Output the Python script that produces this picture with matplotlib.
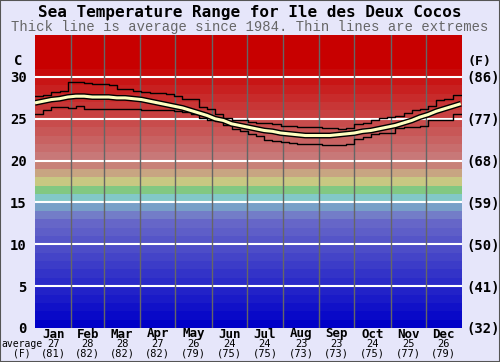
import matplotlib
matplotlib.use("Agg")
import matplotlib.pyplot as plt
import matplotlib.transforms as mtransforms
import numpy as np

# day of year sampled weekly
days = list(range(0, 365, 7))

avg_c = [26.9, 27.1, 27.3, 27.4, 27.6, 27.7, 27.7, 27.6, 27.6, 27.6, 27.5, 27.5, 27.4,
         27.3, 27.1, 26.9, 26.7, 26.5, 26.3, 26.0, 25.7, 25.4, 25.0, 24.8, 24.4, 24.2,
         24.0, 23.8, 23.6, 23.5, 23.3, 23.2, 23.1, 23.0, 23.0, 23.0, 23.0, 23.1, 23.2,
         23.3, 23.5, 23.6, 23.8, 24.0, 24.2, 24.5, 24.8, 25.2, 25.5, 25.9, 26.2, 26.5, 26.8]

max_c = [27.7, 27.8, 28.2, 28.3, 29.4, 29.4, 29.3, 29.2, 29.1, 29.0, 28.6, 28.6, 28.3,
         28.2, 28.1, 28.1, 28.0, 27.7, 27.4, 27.4, 26.4, 26.2, 25.6, 25.1, 24.9, 24.8,
         24.6, 24.5, 24.5, 24.4, 24.1, 24.1, 24.0, 24.0, 24.0, 23.9, 23.9, 23.8, 23.9,
         24.4, 24.5, 24.8, 25.1, 25.2, 25.3, 25.7, 26.0, 26.2, 26.5, 27.3, 27.4, 27.8, 27.8]

min_c = [25.6, 26.0, 26.4, 26.4, 26.3, 26.5, 26.2, 26.2, 26.2, 26.2, 26.2, 26.2, 26.2,
         26.1, 26.1, 26.1, 26.1, 25.9, 25.8, 25.6, 25.1, 24.9, 24.7, 24.3, 23.8, 23.5,
         23.2, 22.9, 22.5, 22.3, 22.2, 22.1, 22.0, 22.0, 22.0, 21.9, 21.9, 21.9, 21.95,
         22.6, 22.8, 23.2, 23.3, 23.3, 23.9, 24.0, 24.0, 24.1, 24.9, 24.9, 24.9, 25.6, 25.6]

months = ["Jan", "Feb", "Mar", "Apr", "May", "Jun", "Jul", "Aug", "Sep", "Oct", "Nov", "Dec"]
month_avg_c = [27, 28, 28, 27, 26, 24, 24, 23, 23, 24, 25, 26]
month_avg_f = [81, 82, 82, 82, 79, 75, 75, 73, 73, 75, 77, 79]
month_days = [31, 28, 31, 30, 31, 30, 31, 31, 30, 31, 30, 31]

c_ticks = [0, 5, 10, 15, 20, 25, 30]
f_ticks = ["(32)", "(41)", "(50)", "(59)", "(68)", "(77)", "(86)"]

bg = "#e6e6fa"
mono = "DejaVu Sans Mono"

fig = plt.figure(figsize=(5, 3.62), dpi=100, facecolor=bg)
ax = fig.add_axes([0.07, 0.094, 0.854, 0.809])

# coloured 1-degree bands
def band_color(t):
    if t <= 12:
        v = 8.5 * t
        return (v / 255, v / 255, 200 / 255)
    fixed = {13: (115, 125, 200), 14: (120, 160, 200), 15: (130, 200, 200),
             16: (130, 200, 130), 17: (200, 200, 130), 18: (200, 165, 130),
             19: (200, 130, 120)}
    if t in fixed:
        r, g, b = fixed[t]
        return (r / 255, g / 255, b / 255)
    v = max(0, 120 - (t - 20) * 11)
    return (200 / 255, v / 255, v / 255)

for t in range(35):
    ax.axhspan(t, t + 1, color=band_color(t), lw=0, zorder=0)

for c in c_ticks[1:]:
    ax.axhline(c, color="white", lw=1.5, zorder=1)

edges = np.cumsum([0] + month_days)
for e in edges[1:-1]:
    ax.axvline(e, color="#666666", lw=1, zorder=1)

ax.step(days, max_c, where="post", color="black", lw=1.0, zorder=3)
ax.step(days, min_c, where="post", color="black", lw=1.0, zorder=3)
ax.plot(days, avg_c, color="black", lw=4.2, zorder=4, solid_capstyle="butt")
ax.plot(days, avg_c, color="#ffffc0", lw=2.2, zorder=5, solid_capstyle="butt")

ax.set_xlim(0, 365)
ax.set_ylim(0, 35)
for s in ax.spines.values():
    s.set_visible(False)

ax.set_yticks(c_ticks)
ax.set_yticklabels([str(c) for c in c_ticks], fontfamily=mono, fontweight="bold", fontsize=10)
ax.tick_params(axis="y", length=0, pad=6)
ax.set_xticks([])

ax2 = ax.twinx()
ax2.set_ylim(0, 35)
ax2.set_yticks(c_ticks)
ax2.set_yticklabels(f_ticks, fontfamily=mono, fontweight="bold", fontsize=10)
ax2.tick_params(axis="y", length=0, pad=3)
for s in ax2.spines.values():
    s.set_visible(False)

ax.text(-0.04, 0.911, "C", transform=ax.transAxes, ha="center", va="center",
        fontfamily=mono, fontweight="bold", fontsize=10)
ax.text(1.04, 0.911, "(F)", transform=ax.transAxes, ha="center", va="center",
        fontfamily=mono, fontweight="bold", fontsize=9.5)

trans = mtransforms.blended_transform_factory(ax.transData, fig.transFigure)
mids = edges[:-1] + np.array(month_days) / 2
for m, mc, mf, x in zip(months, month_avg_c, month_avg_f, mids):
    ax.text(x, 1 - 334 / 362, m, transform=trans, ha="center", va="center",
            fontfamily=mono, fontweight="bold", fontsize=9)
    ax.text(x, 1 - 344 / 362, str(mc), transform=trans, ha="center", va="center",
            fontfamily=mono, fontsize=7.5)
    ax.text(x, 1 - 353 / 362, "(%d)" % mf, transform=trans, ha="center", va="center",
            fontfamily=mono, fontsize=7.5)
fig.text(22 / 500, 1 - 344 / 362, "average", ha="center", va="center",
         fontfamily=mono, fontsize=7)
fig.text(22 / 500, 1 - 353 / 362, "(F)", ha="center", va="center",
         fontfamily=mono, fontsize=7)

fig.text(0.5, 1 - 12 / 362, "Sea Temperature Range for Ile des Deux Cocos",
         ha="center", va="center", fontfamily=mono, fontweight="bold", fontsize=11.5)
fig.text(0.5, 1 - 27 / 362, "Thick line is average since 1984. Thin lines are extremes",
         ha="center", va="center", fontfamily="Liberation Mono", fontsize=10, color="#666666")

fig.patches.append(plt.Rectangle((0, 0), 1, 1, transform=fig.transFigure, fill=False,
                                 edgecolor="#555555", lw=1.5))

fig.savefig("out.png", dpi=100, facecolor=bg)
